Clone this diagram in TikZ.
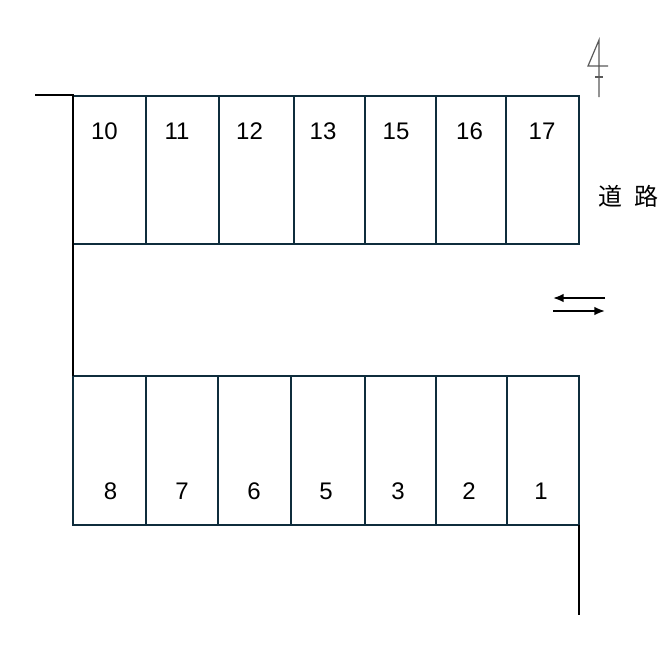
\documentclass[tikz,border=0pt]{standalone}
\usepackage{fontspec}
\setmainfont{Liberation Sans}
\newfontfamily\cjk{Noto Sans CJK JP}
\usetikzlibrary{arrows.meta}
\definecolor{stallline}{HTML}{0F2D3C}
\tikzset{
  stallrow/.style={draw=stallline,line width=1.7pt},
  wall/.style={draw=black,line width=1.7pt},
  stallno/.style={font=\fontsize{18}{18}\selectfont,text=black,inner sep=0pt},
  flow/.style={draw=black,line width=1.4pt,-{Latex[length=8pt,width=6.5pt]}},
  northmark/.style={draw=black!65,line width=0.9pt}
}
\begin{document}
\begin{tikzpicture}[x=0.75pt,y=-0.75pt]
  \useasboundingbox (0,0) rectangle (661,667);
  % top row
  \draw[stallrow] (73,96) rectangle (579,244);
  \foreach \x in {146,219,294,365,436,506}
    \draw[stallrow] (\x,96) -- (\x,244);
  \foreach \x/\n in {104.5/10,177/11,249.5/12,323/13,396/15,469.5/16,542/17}
    \node[stallno] (top\n) at (\x,131) {\n};
  % bottom row
  \draw[stallrow] (73,376) rectangle (579,525);
  \foreach \x in {146,218,291,365,436,507}
    \draw[stallrow] (\x,376) -- (\x,525);
  \foreach \x/\n in {110.5/8,182/7,254/6,326/5,398/3,469/2,541/1}
    \node[stallno] (bottom\n) at (\x,491) {\n};
  % walls
  \draw[wall] (35,95) -- (73,95) -- (73,376);
  \draw[wall] (579,525) -- (579,615);
  % road
  \node[inner sep=0pt,font=\cjk\fontsize{18}{18}\selectfont] (road) at (628,196) {道\hspace{9pt}路};
  \draw[flow] (605,298) -- (553,298);
  \draw[flow] (553,311) -- (605,311);
  % north
  \draw[northmark] (599,97) -- (599,40) -- (588,66) -- (608,66);
  \draw[northmark] (595,77) -- (603,77);
\end{tikzpicture}
\end{document}
